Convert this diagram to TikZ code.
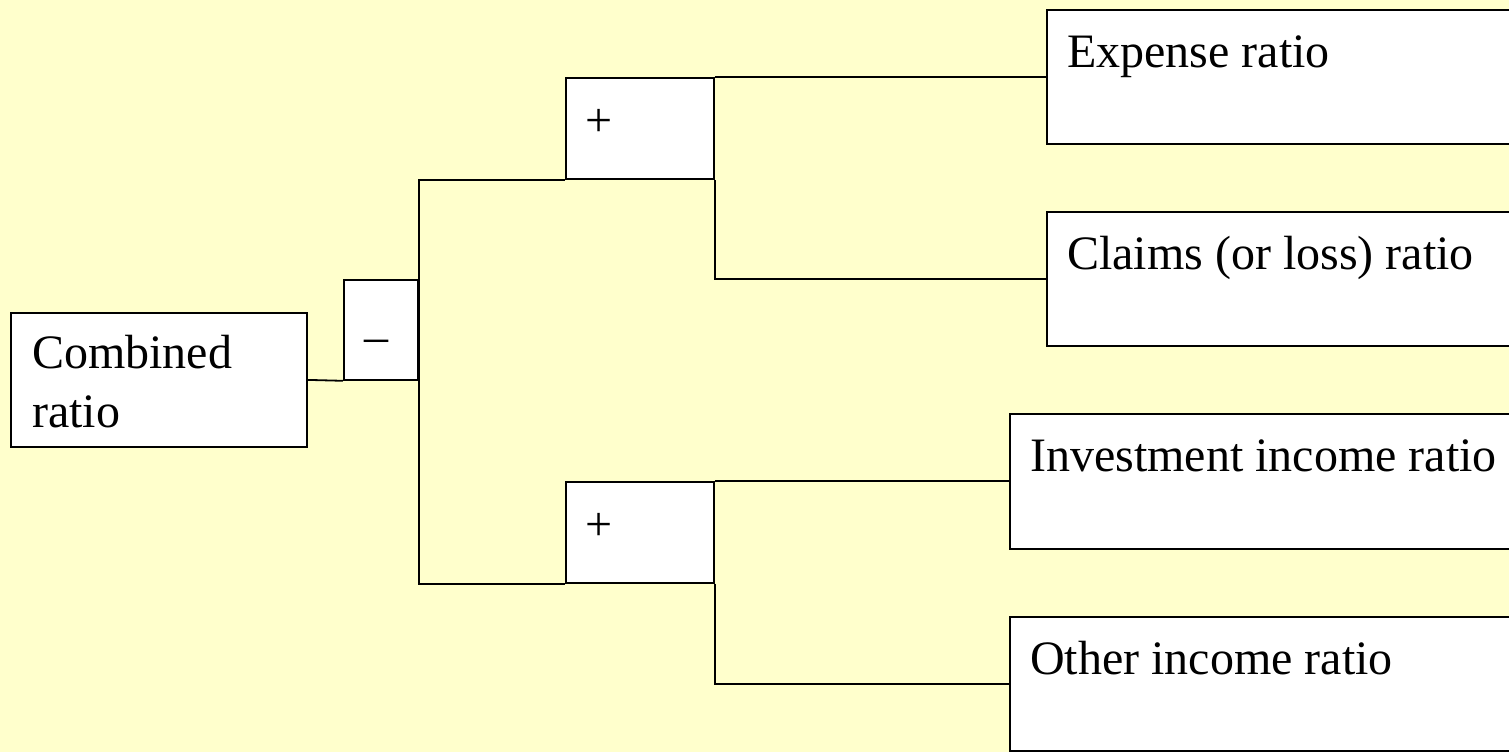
\documentclass[tikz,border=0pt]{standalone}
\usepackage{fontspec}
\setmainfont{Liberation Serif}
\usetikzlibrary{calc}
\definecolor{paper}{HTML}{FFFFCC}
\begin{document}
\begin{tikzpicture}[x=1pt,y=-1pt,
  box/.style={draw=black,line width=1.8pt,fill=white,inner sep=0pt,anchor=north west},
  lbl/.style={anchor=base west,inner sep=0pt,align=left,font=\rmfamily\fontsize{48}{59}\selectfont},
  sign/.style={anchor=base,inner sep=0pt,font=\rmfamily\fontsize{48}{58}\selectfont},
  link/.style={draw=black,line width=1.8pt}]
  % page
  \fill[paper] (0,0) rectangle (1509,752);
  \useasboundingbox (0,0) rectangle (1509,752);
  \clip (0,0) rectangle (1509,752);
  % boxes
  \node[box,minimum width=296pt,minimum height=134pt] (comb) at (10,312) {};
  \node[box,minimum width=74pt,minimum height=100pt] (minus) at (343,279) {};
  \node[box,minimum width=148pt,minimum height=101pt] (plusA) at (565,77) {};
  \node[box,minimum width=148pt,minimum height=101pt] (plusB) at (565,481) {};
  \node[box,minimum width=520pt,minimum height=134pt] (exp) at (1046,9) {};
  \node[box,minimum width=520pt,minimum height=134pt] (claims) at (1046,211) {};
  \node[box,minimum width=560pt,minimum height=135pt] (inv) at (1009,413) {};
  \node[box,minimum width=560pt,minimum height=134pt] (other) at (1009,616) {};
  % texts (a two-line label sits on the baseline of its last line)
  \node[lbl] (combT) at ($(comb.north west)+(22,115)$) {Combined\\ratio};
  \node[sign] (minusT) at ($(minus.north west)+(33,73)$) {–};
  \node[sign] (plusAT) at ($(plusA.north west)+(34,59)$) {+};
  \node[sign] (plusBT) at ($(plusB.north west)+(34,59)$) {+};
  \node[lbl] (expT) at ($(exp.north west)+(21,58)$) {Expense ratio};
  \node[lbl] (claimsT) at ($(claims.north west)+(21,58)$) {Claims (or loss) ratio};
  \node[lbl] (invT) at ($(inv.north west)+(21,58)$) {Investment income ratio};
  \node[lbl] (otherT) at ($(other.north west)+(21,58)$) {Other income ratio};
  % connectors
  \draw[link] (comb.east) -- (minus.south west);
  \draw[link] (plusA.south west) -- (minus.east |- plusA.south west)
    -- (minus.east |- plusB.south west) -- (plusB.south west);
  \draw[link] (plusA.north east) -- (plusA.north east -| exp.west);
  \draw[link] (plusA.south east) |- (claims.west);
  \draw[link] (plusB.north east) -- (plusB.north east -| inv.west);
  \draw[link] (plusB.south east) |- (other.west);
\end{tikzpicture}
\end{document}
